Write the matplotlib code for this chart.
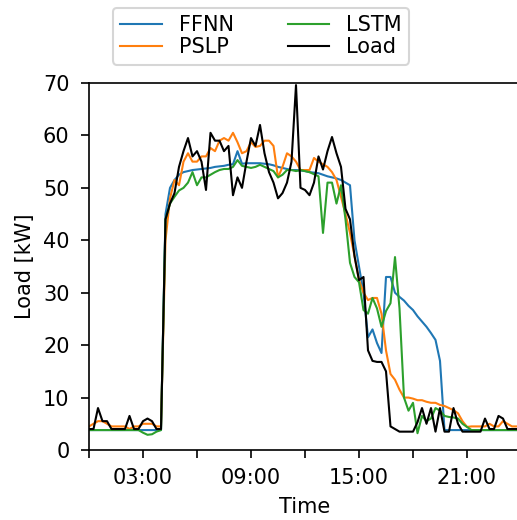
"""
Load forecast comparison: FFNN, PSLP, LSTM against measured load over one day.
"""

import numpy as np
import matplotlib
matplotlib.use("Agg")
import matplotlib.pyplot as plt
from matplotlib.ticker import FixedLocator, FuncFormatter

# 15-min resolution, 96 samples per day (hours from midnight)
hours = np.arange(96) * 0.25

load = [
    4, 4, 8, 5.5, 5.5, 4, 4, 4, 4, 6.5, 4, 4, 5.5, 6, 5.5, 4,
    4, 44, 47, 49, 54, 57, 59.5, 56, 57, 55, 49.6, 60.5, 59, 59, 57, 58,
    48.6, 52, 50, 55, 59.5, 58, 62, 56.6, 53, 51, 48, 49, 51, 55, 69.6, 50,
    49.6, 48.6, 51, 56, 53.5, 57, 59.7, 56.6, 54, 46, 44, 37, 32.4, 33,
    19, 17, 16.8, 16.8, 15, 4.5, 4, 3.5, 3.5, 3.5, 3.5, 5.3, 8, 5, 8, 3.5,
    8, 3.5, 3.5, 8, 5, 3.5, 3.5, 3.5, 3.5, 3.5, 6, 4, 4, 6.5, 6, 4, 4, 4,
]

pslp = [
    4.5, 5, 5.5, 5.5, 5, 4.5, 4.5, 4.5, 4.5, 4, 4.5, 4.5, 5, 5, 5, 4.5,
    4.5, 40, 48, 51.5, 50.5, 55, 56.6, 55, 55, 56, 56, 57.6, 57, 59, 59.5, 59,
    60.5, 58.7, 56.6, 57, 58.7, 57.8, 58, 59, 59, 58, 52, 54, 56.6, 56, 55, 53.4,
    53.4, 53.4, 55.7, 55, 54.5, 54, 53, 51.5, 48.3, 45, 41.4, 37, 32.4, 30,
    28.6, 29, 29, 26, 19, 14.5, 13.4, 11.5, 10, 10, 9.8, 9.5, 9.5, 9.2, 9, 9,
    8.6, 8.4, 8, 7.6, 7, 5.5, 4.4, 4.5, 4.5, 4.5, 4.5, 5, 4.5, 4.5, 5.5, 5, 4.5, 4.5,
]

ffnn = [
    3.8, 3.8, 3.8, 3.8, 3.8, 3.8, 3.8, 3.8, 3.8, 3.8, 3.8, 3.8, 3.8, 3.8, 3.8, 3.8,
    3.8, 45, 50, 51.5, 52.5, 53, 53.2, 53.4, 53.5, 53.6, 53.7, 53.8, 54, 54.1, 54.2, 54.4,
    54.5, 57, 54.6, 54.7, 54.7, 54.7, 54.7, 54.6, 54.5, 54.3, 54, 53.8, 53.6, 53.4, 53.4, 53.3,
    53.2, 53, 52.9, 52.8, 52.5, 52.2, 52, 51.8, 51.5, 51, 50.5, 40, 35, 30,
    21.5, 23, 20.4, 18.5, 33, 33, 30, 29.2, 28.5, 27.5, 26.7, 25.5, 24.5, 23.5, 22.3, 21,
    17, 3.8, 3.8, 3.8, 3.8, 3.8, 3.8, 3.8, 3.8, 3.8, 3.8, 3.8, 3.8, 3.8, 3.8, 3.8, 3.8, 3.8,
]

lstm = [
    3.8, 3.8, 3.8, 3.8, 3.8, 3.8, 3.8, 3.8, 3.8, 3.8, 3.8, 3.8, 3.3, 2.9, 3.0, 3.5,
    3.8, 44, 47, 48.3, 49.5, 50, 51, 53, 50.5, 52, 52, 52.5, 53, 53.4, 53.6, 53.6,
    54, 55.3, 54.2, 54, 53.8, 54, 54.4, 54, 53.6, 53.2, 52, 52.5, 53.4, 53.4, 53.2, 53.4,
    53.2, 53, 52.6, 52.2, 41.4, 51, 51, 47, 50.5, 44, 35.7, 33, 32, 26.7,
    26, 29, 27, 23.5, 26.5, 28, 36.8, 27, 10, 7.5, 9, 3.2, 6.5, 5.5, 6, 8,
    7.5, 6.5, 6.3, 6.2, 6, 5, 4.4, 3.8, 3.8, 3.8, 3.8, 3.8, 3.8, 3.8, 3.8, 3.8, 3.8, 3.8,
]

plt.rcParams["font.family"] = ["DejaVu Sans"]
plt.rcParams["font.size"] = 10

fig = plt.figure(figsize=(517 / 150, 520 / 150), dpi=150)
# axes run slightly past the right edge, as in the cropped original
ax = fig.add_axes([89 / 517, 70 / 520, 432 / 517, 367 / 520])

ax.plot(hours, ffnn, color="C0", lw=1.0, label="FFNN")
ax.plot(hours, pslp, color="C1", lw=1.0, label="PSLP")
ax.plot(hours, lstm, color="C2", lw=1.0, label="LSTM")
ax.plot(hours, load, color="black", lw=1.0, label="Load")

ax.set_xlim(0, 24)
ax.set_ylim(0, 70)
ax.xaxis.set_major_locator(FixedLocator(np.arange(0, 25, 3)))
ax.xaxis.set_major_formatter(
    FuncFormatter(lambda h, _: f"{int(h):02d}:00" if int(h) % 6 == 3 else "")
)
ax.tick_params(axis="x", length=3.8, pad=5)
ax.tick_params(axis="y", length=3.8, pad=5.5)
ax.set_xlabel("Time")
ax.set_ylabel("Load [kW]")

fig.legend(
    loc="upper center",
    bbox_to_anchor=(261 / 517, 1 - 8 / 520),
    ncol=2,
    labelspacing=0.1,
    borderpad=0.35,
    borderaxespad=0,
    columnspacing=2.6,
)

fig.savefig("out.png", dpi=150)
